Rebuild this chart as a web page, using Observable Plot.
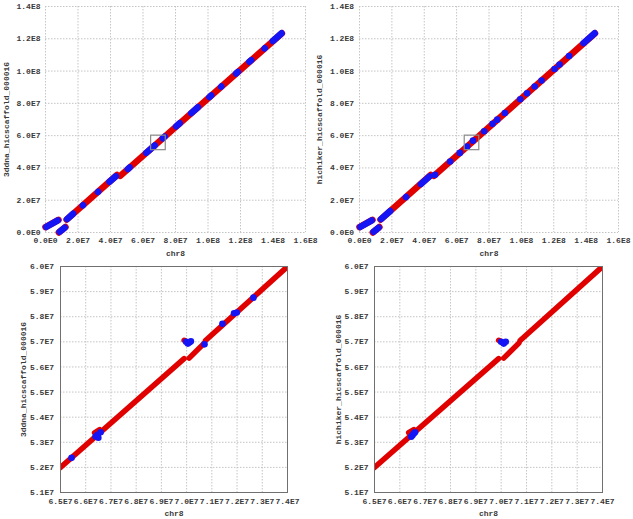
<!DOCTYPE html>
<html><head><meta charset="utf-8">
<script src="https://cdn.jsdelivr.net/npm/d3@7"></script>
<script src="https://cdn.jsdelivr.net/npm/@observablehq/plot@0.6"></script>
<style>
body{margin:0;background:#fff;}
#wrap{position:relative;width:633px;height:519px;overflow:hidden;background:#fff;}
.p{position:absolute;}
</style></head><body><div id="wrap"></div>
<script>
// ---- labels & ticks (positions in Mb; shown as scientific notation of bp) ----
const xLabel = "chr8";
const yLabelLeft = "3ddna_hicscaffold_000016";
const yLabelRight = "hichiker_hicscaffold_000016";
const overviewXTicks = [0, 20, 40, 60, 80, 100, 120, 140, 160];
const overviewYTicks = [0, 20, 40, 60, 80, 100, 120, 140];
const zoomXTicks = [65, 66, 67, 68, 69, 70, 71, 72, 73, 74];
const zoomYTicks = [51, 52, 53, 54, 55, 56, 57, 58, 59, 60];
const zoomBox = [[65, 51, 74, 60]];

// ---- overview alignments [x1, y1, x2, y2] in Mb ----
const overviewRed = [
  [0.0, 3.3, 8.0, 7.8],
  [8.2, 0.0, 12.3, 3.4],
  [13.0, 8.0, 44.0, 35.6],
  [46.0, 35.1, 145.5, 123.4]
];
const leftBlue = [
  [0.4, 3.4, 7.6, 7.5],
  [8.7, 0.4, 11.8, 3.0],
  [13.3, 8.3, 17.0, 11.6],
  [23.0, 16.8, 23.1, 16.9],
  [32.3, 25.1, 32.4, 25.2],
  [39.4, 31.4, 43.3, 34.8],
  [50.7, 39.3, 51.8, 40.3],
  [62.0, 49.3, 67.2, 53.9],
  [72.2, 58.4, 73.3, 59.4],
  [80.4, 65.7, 82.6, 67.7],
  [89.7, 73.9, 93.8, 77.6],
  [100.9, 83.9, 102.0, 84.9],
  [108.1, 90.3, 108.2, 90.4],
  [117.3, 98.5, 118.4, 99.5],
  [125.5, 105.8, 126.6, 106.8],
  [134.8, 114.0, 134.9, 114.1],
  [139.9, 118.6, 145.3, 123.4]
];
const rightBlue = [
  [0.4, 3.4, 7.6, 7.5],
  [8.7, 0.4, 11.8, 3.0],
  [13.3, 8.3, 19.0, 13.3],
  [28.7, 21.9, 28.8, 22.0],
  [37.9, 30.0, 43.3, 34.8],
  [138.4, 117.3, 145.3, 123.4]
];
const rightBlueDotX = [46.7, 56.0, 62.0, 66.5, 70.1, 77.0, 82.2, 85.1, 89.8, 99.3, 103.5, 108.2, 112.5, 120.5, 123.6, 129.5];
const rightBlueDotY = [35.7, 44.0, 49.3, 53.3, 56.9, 62.7, 67.3, 69.9, 74.0, 82.5, 86.2, 90.4, 94.2, 101.3, 104.1, 109.3];

// ---- zoomed region alignments (Mb) ----
const zoomRed = [
  [65.0, 52.0, 69.9, 56.33],
  [70.1, 56.35, 70.7, 56.95],
  [70.75, 57.05, 74.0, 60.0],
  [69.9, 57.06, 69.96, 57.03],
  [66.35, 53.38, 66.55, 53.5]
];
const leftZoomBlueX = [65.44, 66.39, 66.47, 66.59, 66.5, 69.98, 70.05, 70.12, 70.17, 70.71, 71.42, 71.88, 71.99, 72.65];
const leftZoomBlueY = [52.38, 53.23, 53.3, 53.4, 53.18, 57.0, 56.93, 56.98, 57.02, 56.9, 57.72, 58.14, 58.17, 58.76];
const rightZoomBlueX = [66.45, 66.5, 66.55, 66.6, 70.0, 70.1, 70.18];
const rightZoomBlueY = [53.22, 53.28, 53.35, 53.4, 57.0, 56.93, 57.0];

// ---- styling ----
const RED = "#e00000", BLUE = "#1414f5";
const FONT = "Liberation Mono, Courier New, monospace";
const TXT = "#3a3a3a";

function sci(v) {
  const n = Math.round(v * 1e6);
  if (n === 0) return "0.0E0";
  const e = Math.floor(Math.log10(n) + 1e-9);
  return (n / Math.pow(10, e)).toFixed(1) + "E" + e;
}

function seg(data, color, w, clip) {
  return Plot.link(data, {x1: d => d[0], y1: d => d[1], x2: d => d[2], y2: d => d[3],
    stroke: color, strokeWidth: w, strokeLinecap: "round", clip});
}
function dots(xs, ys, color, r, clip) {
  return Plot.dot(xs.map((x, i) => ({x, y: ys[i]})), {x: "x", y: "y", r, fill: color, stroke: "none", clip});
}

function panel(cfg) {
  const marks = [
    Plot.gridX(cfg.xt, {stroke: "#c4c4c4", strokeOpacity: 1, strokeDasharray: "1.5,1.5"}),
    Plot.gridY(cfg.yt, {stroke: "#c4c4c4", strokeOpacity: 1, strokeDasharray: "1.5,1.5"}),
    Plot.axisX(cfg.xt, {tickSize: 0, tickPadding: cfg.xpad, tickFormat: sci, label: null, fill: TXT}),
    Plot.axisY(cfg.yt, {tickSize: 0, tickPadding: cfg.ypad, tickFormat: sci, label: null, fill: TXT}),
    ...cfg.data,
    Plot.text([xLabel], {frameAnchor: "bottom", textAnchor: "middle", lineAnchor: "middle", dy: cfg.xlabDy, fill: TXT}),
    Plot.text([cfg.ylab], {frameAnchor: "left", textAnchor: "middle", lineAnchor: "middle", rotate: -90, dx: cfg.ylabDx, fill: TXT})
  ];
  if (cfg.frame) marks.push(Plot.frame({stroke: "#707070"}));
  const svg = Plot.plot({
    width: cfg.w, height: cfg.h,
    marginLeft: cfg.ml, marginRight: cfg.mr, marginTop: cfg.mt, marginBottom: cfg.mb,
    x: {domain: cfg.xd}, y: {domain: cfg.yd},
    style: {fontFamily: FONT, fontSize: "8px", fontWeight: "bold", background: "transparent", overflow: "visible", color: TXT},
    marks
  });
  const div = document.createElement("div");
  div.className = "p";
  div.style.left = cfg.left + "px";
  div.style.top = cfg.top + "px";
  div.appendChild(svg);
  document.getElementById("wrap").appendChild(div);
}

const boxMark = Plot.rect(zoomBox, {x1: d => d[0], y1: d => d[1], x2: d => d[2], y2: d => d[3], fill: "none", stroke: "#8a8a8a", strokeWidth: 1.2});

panel({left: 0, top: 0, w: 316, h: 260, ml: 45, mr: 11, mt: 6, mb: 28,
  xd: [0, 160], yd: [0, 140], xt: overviewXTicks, yt: overviewYTicks, xpad: 5, ypad: 5,
  xlabDy: 21, ylab: yLabelLeft, ylabDx: -39, frame: false,
  data: [seg(overviewRed, RED, 6.5, false), seg(leftBlue, BLUE, 6.5, false), boxMark]});

panel({left: 313, top: 0, w: 320, h: 260, ml: 46, mr: 15, mt: 6, mb: 28,
  xd: [0, 160], yd: [0, 140], xt: overviewXTicks, yt: overviewYTicks, xpad: 5, ypad: 5.5,
  xlabDy: 21, ylab: yLabelRight, ylabDx: -40, frame: false,
  data: [seg(overviewRed, RED, 6.5, false), seg(rightBlue, BLUE, 6.5, false),
         dots(rightBlueDotX, rightBlueDotY, BLUE, 3.3, false), boxMark]});

panel({left: 0, top: 258, w: 316, h: 261, ml: 60, mr: 29, mt: 8, mb: 27,
  xd: [65, 74], yd: [51, 60], xt: zoomXTicks, yt: zoomYTicks, xpad: 5.5, ypad: 6.5,
  xlabDy: 20.7, ylab: yLabelLeft, ylabDx: -37, frame: true,
  data: [seg(zoomRed, RED, 5.5, true), dots(leftZoomBlueX, leftZoomBlueY, BLUE, 3.3, true)]});

panel({left: 313, top: 258, w: 320, h: 261, ml: 61, mr: 31, mt: 8, mb: 27,
  xd: [65, 74], yd: [51, 60], xt: zoomXTicks, yt: zoomYTicks, xpad: 5.5, ypad: 6,
  xlabDy: 20.7, ylab: yLabelRight, ylabDx: -36, frame: true,
  data: [seg(zoomRed, RED, 5.5, true), dots(rightZoomBlueX, rightZoomBlueY, BLUE, 3.3, true)]});
</script>
</body></html>
